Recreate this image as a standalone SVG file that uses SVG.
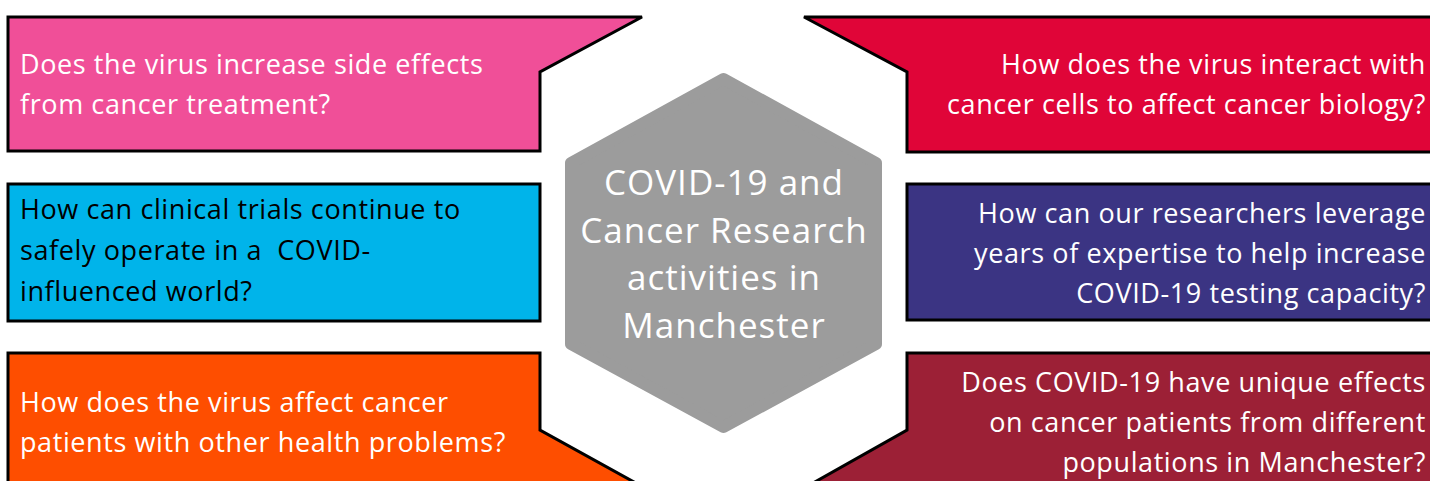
<svg xmlns="http://www.w3.org/2000/svg" width="1430" height="481" viewBox="0 0 1430 481">
<style>
.box{stroke:#000;stroke-width:3;stroke-linejoin:miter}
.t{font-family:"Open Sans",Lato,sans-serif;font-size:27px;letter-spacing:0.6px;white-space:pre}
.w{fill:#fff}
.k{fill:#000}
.hex{fill:#9c9c9c;stroke:#9c9c9c;stroke-width:12;stroke-linejoin:round}
.ht{font-family:"Open Sans",Lato,sans-serif;font-size:35px;letter-spacing:1px;fill:#fff;text-anchor:middle}
</style>
<rect width="1430" height="481" fill="#fff"/>
<g id="hexagon">
<polygon class="hex" points="723.5,79 876,163 876,344 723.5,427 571,344 571,163"/>
<text class="ht" x="724" y="195">COVID-19 and</text>
<text class="ht" x="724" y="243">Cancer Research</text>
<text class="ht" x="724" y="290">activities in</text>
<text class="ht" x="724" y="338">Manchester</text>
</g>
<g id="node-side-effects">
<path class="box" fill="#f04f98" d="M8,17 L642,17 L540,72 L540,151 L8,151 Z"/>
<text class="t w" x="20" y="74">Does the virus increase side effects</text>
<text class="t w" x="20" y="114">from cancer treatment?</text>
</g>
<g id="node-biology">
<path class="box" fill="#e00538" d="M804,17 L1440,17 L1440,152 L907,152 L907,72 Z"/>
<text class="t w" x="1426" y="74" text-anchor="end">How does the virus interact with</text>
<text class="t w" x="1426" y="114" text-anchor="end">cancer cells to affect cancer biology?</text>
</g>
<g id="node-trials">
<rect class="box" fill="#00b4ea" x="8" y="184" width="532" height="137"/>
<text class="t k" x="20" y="219">How can clinical trials continue to</text>
<text class="t k" x="20" y="260">safely operate in a  COVID-</text>
<text class="t k" x="20" y="301">influenced world?</text>
</g>
<g id="node-testing">
<rect class="box" fill="#3b3483" x="907" y="184" width="533" height="136"/>
<text class="t w" x="1426" y="223" text-anchor="end">How can our researchers leverage</text>
<text class="t w" x="1426" y="263" text-anchor="end">years of expertise to help increase</text>
<text class="t w" x="1426" y="303" text-anchor="end">COVID-19 testing capacity?</text>
</g>
<g id="node-health-problems">
<path class="box" fill="#fe4e00" d="M8,353 L540,353 L540,430 L643,487 L8,487 Z"/>
<text class="t w" x="20" y="412">How does the virus affect cancer</text>
<text class="t w" x="20" y="452">patients with other health problems?</text>
</g>
<g id="node-populations">
<path class="box" fill="#9c2036" d="M907,353 L1440,353 L1440,487 L806,487 L907,430 Z"/>
<text class="t w" x="1426" y="392" text-anchor="end">Does COVID-19 have unique effects</text>
<text class="t w" x="1426" y="432" text-anchor="end">on cancer patients from different</text>
<text class="t w" x="1426" y="472" text-anchor="end">populations in Manchester?</text>
</g>
<g id="connectors"></g>
</svg>
